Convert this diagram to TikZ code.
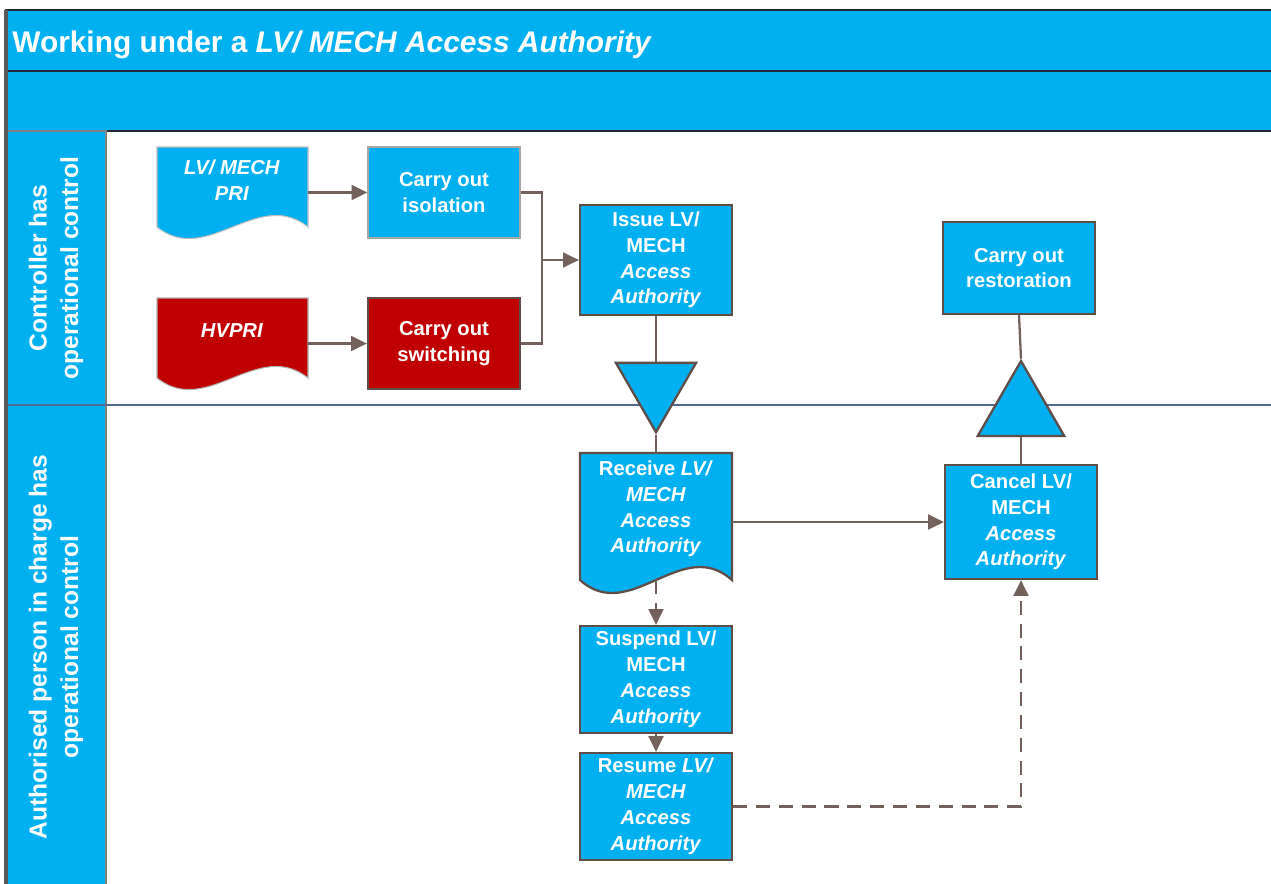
\documentclass[tikz,border=0pt]{standalone}
\usepackage{fontspec}
\setmainfont{Liberation Sans}
\usetikzlibrary{arrows.meta,shapes.geometric,positioning}

\definecolor{laneblue}{HTML}{00B0F0}
\definecolor{hvred}{HTML}{C00000}
\definecolor{flowline}{HTML}{73625C}
\definecolor{boxedge}{HTML}{5F4D47}
\definecolor{lanesep}{HTML}{4F6B95}
\definecolor{frameedge}{HTML}{1F2A36}

\newcommand{\boxfont}{\fontsize{11.5}{14.7}\selectfont\bfseries}
\newcommand{\titlefont}{\fontsize{17}{20}\selectfont\bfseries}
\newcommand{\lanefont}{\fontsize{14}{18}\selectfont\bfseries}

% document shape: x1, top, x2, baseline, fill, edge, amplitude
\newcommand{\docshape}[7]{%
  \draw[#6, fill=#5]
    (#1,#2) -- (#3,#2) -- (#3,#4)
    .. controls (#3-50,#4-#7) and (#1+50,#4+#7) .. (#1,#4) -- cycle;
}

\tikzset{
  actbox/.style={draw=boxedge, line width=1.3pt, fill=laneblue, text=white,
    font=\boxfont, align=center, minimum width=3.04cm, inner sep=0pt},
  doctext/.style={text=white, font=\boxfont, align=center,
    minimum width=3.04cm, inner sep=0pt},
  lanelabel/.style={text=white, font=\lanefont, align=center, rotate=90},
  mergetri/.style={regular polygon, regular polygon sides=3, minimum size=1.85cm,
    draw=boxedge, line width=1.3pt, fill=laneblue, inner sep=0pt},
  flow/.style={draw=flowline, line width=1.3pt, -{Triangle[length=9pt,width=8.5pt]}},
  flowplain/.style={draw=flowline, line width=1.3pt},
}

\begin{document}
\begin{tikzpicture}[x=0.02cm, y=-0.02cm]
  \useasboundingbox (0,0) rectangle (1271,883);

  % header bands
  \draw[frameedge, line width=1.5pt, fill=laneblue] (6,10) rectangle (1280,71);
  \draw[frameedge, line width=1.5pt, fill=laneblue] (6,71) rectangle (1280,131);
  \node[anchor=base west, text=white, font=\titlefont, inner sep=0pt] (title) at (12,52)
    {Working under a \textit{LV/ MECH Access Authority}};

  % lane column
  \draw[gray, line width=0.8pt, fill=laneblue] (6,131) rectangle (106,890);
  \draw[lanesep, line width=0.7pt] (6,405) -- (1280,405);
  \draw[gray!70!black, line width=2pt] (6,10) -- (6,890);
  \node[lanelabel] (lane1) at (56,268) {Controller has\\operational control};
  \node[lanelabel] (lane2) at (56,647) {Authorised person in charge has\\operational control};

  % document shapes
  \docshape{157}{147}{308}{227}{laneblue}{gray!50, line width=0.6pt}{40}
  \docshape{157}{298}{308}{378}{hvred}{gray!60, line width=0.6pt}{40}
  \docshape{580}{453}{732}{580}{laneblue}{boxedge, line width=1.3pt}{45}
  \node[doctext, minimum height=1.32cm] (pri) at (232,180) {\textit{LV/ MECH}\\\textit{PRI}};
  \node[doctext, minimum height=1.32cm] (hv) at (232,331) {\textit{HVPRI}};
  \node[doctext, minimum height=2.24cm] (recv) at (656,509)
    {Receive \textit{LV/}\\\textit{MECH}\\\textit{Access}\\\textit{Authority}};

  % process boxes
  \node[actbox, draw=gray!70, line width=0.8pt, minimum height=1.82cm] (iso) at (444,192.5) {Carry out\\isolation};
  \node[actbox, fill=hvred, minimum height=1.82cm] (sw) at (444,343.5) {Carry out\\switching};
  \node[actbox, minimum height=2.2cm] (issue) at (656,260) {Issue LV/\\MECH\\\textit{Access}\\\textit{Authority}};
  \node[actbox, minimum height=1.84cm] (rest) at (1019,268) {Carry out\\restoration};
  \node[actbox, minimum height=2.28cm] (canc) at (1021,522) {Cancel LV/\\MECH\\\textit{Access}\\\textit{Authority}};
  \node[actbox, minimum height=2.14cm] (susp) at (656,679.5) {Suspend LV/\\MECH\\\textit{Access}\\\textit{Authority}};
  \node[actbox, minimum height=2.14cm] (res) at (656,806.5) {Resume \textit{LV/}\\\textit{MECH}\\\textit{Access}\\\textit{Authority}};

  % hand-over triangles
  \node[mergetri, shape border rotate=180] (tdown) at (656,386) {};
  \node[mergetri, minimum size=2.0cm] (tup) at (1021,411) {};

  % connectors
  \draw[flow] (pri.east |- iso.west) -- (iso.west);
  \draw[flow] (hv.east |- sw.west) -- (sw.west);
  \coordinate (join) at (542,260);
  \draw[flowplain] (iso.east) -| (join);
  \draw[flowplain] (sw.east) -| (join);
  \draw[flow] (join) -- (issue.west);
  \draw[flowplain] (issue.south) -- (tdown.north);
  \draw[flowplain] (tdown.south) -- (recv.north);
  \draw[flow] (recv.east |- canc.west) -- (canc.west);
  \coordinate (recvwave) at (656,580);
  \draw[flow, dash pattern=on 8pt off 5pt] (recvwave) -- (susp.north);
  \draw[flow] (susp.south) -- (res.north);
  \draw[flow, dash pattern=on 8pt off 5pt] (res.east) -| (canc.south);
  \draw[flowplain] (canc.north) -- (tup.south);
  \draw[flowplain] (tup.north) -- (rest.south);
\end{tikzpicture}
\end{document}
